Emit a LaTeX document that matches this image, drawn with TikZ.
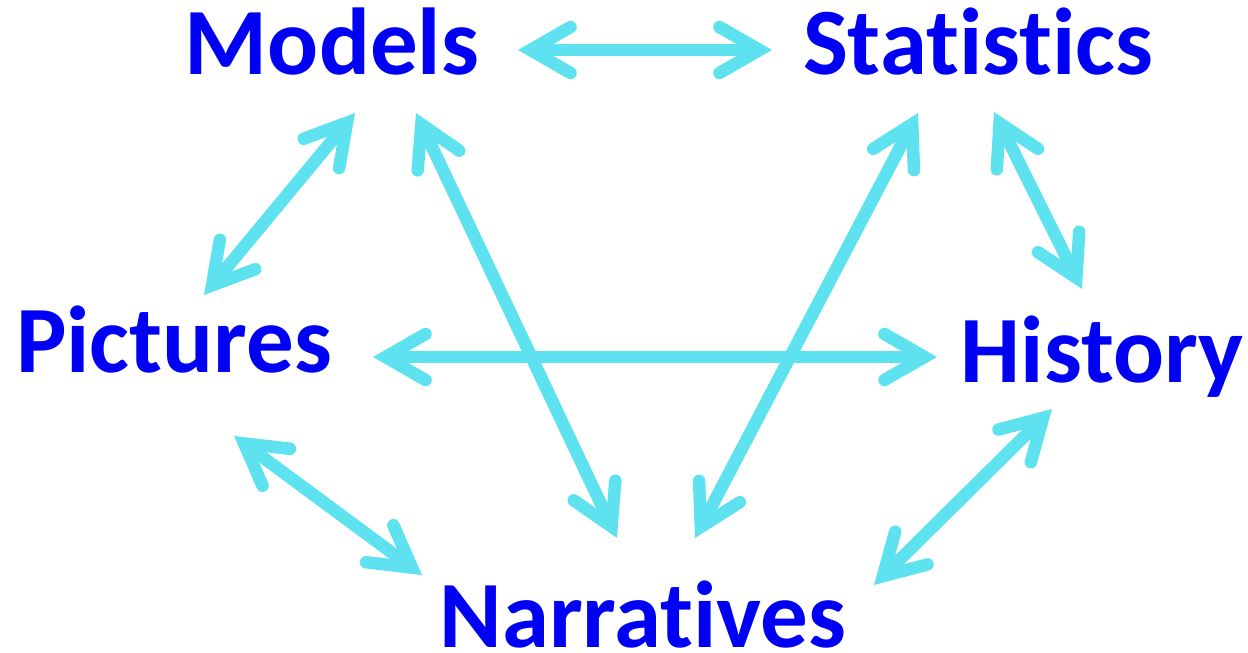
\documentclass[tikz,border=0pt]{standalone}
\usepackage{fontspec}
\setmainfont{Carlito}[Ligatures=NoCommon]
\usetikzlibrary{arrows.meta}
\definecolor{txtblue}{RGB}{0,0,245}
\definecolor{arrcyan}{RGB}{94,226,240}
\tikzset{
  lbl/.style={inner sep=0pt, anchor=base, text=txtblue, text depth=0pt, font=\fontsize{95}{100}\selectfont\bfseries},
  conn/.style={draw=arrcyan, line width=12.5pt,
    {Straight Barb[length=40pt,width=46pt,line cap=round,line join=miter]}-{Straight Barb[length=40pt,width=46pt,line cap=round,line join=miter]}}
}
\begin{document}
\begin{tikzpicture}[x=1pt,y=-1pt]
\useasboundingbox (0,0) rectangle (1248,653);
\node[lbl] (models) at (332,74) {Models};
\node[lbl] (stats) at (978,74) {Statistics};
\node[lbl] (pict) at (174,372) {Pictures};
\node[lbl] (hist) at (1102,382) {History};
\node[lbl] (narr) at (643,647) {Narratives};
% arrow end points
\coordinate (ms1) at (518,50); \coordinate (ms2) at (772,50);
\coordinate (mp1) at (355,113); \coordinate (mp2) at (204,295);
\coordinate (ph1) at (373,357); \coordinate (ph2) at (937,357);
\coordinate (mn1) at (416,113); \coordinate (mn2) at (617,538);
\coordinate (sn1) at (918,113); \coordinate (sn2) at (695,538);
\coordinate (sh1) at (994,112); \coordinate (sh2) at (1082,289);
\coordinate (pn1) at (234,436); \coordinate (pn2) at (422,575);
\coordinate (hn1) at (1052,409); \coordinate (hn2) at (874,585);
\draw[conn] (ms1) -- (ms2);
\draw[conn] (mp1) -- (mp2);
\draw[conn] (ph1) -- (ph2);
\draw[conn] (mn1) -- (mn2);
\draw[conn] (sn1) -- (sn2);
\draw[conn] (sh1) -- (sh2);
\draw[conn] (pn1) -- (pn2);
\draw[conn] (hn1) -- (hn2);
\end{tikzpicture}
\end{document}
